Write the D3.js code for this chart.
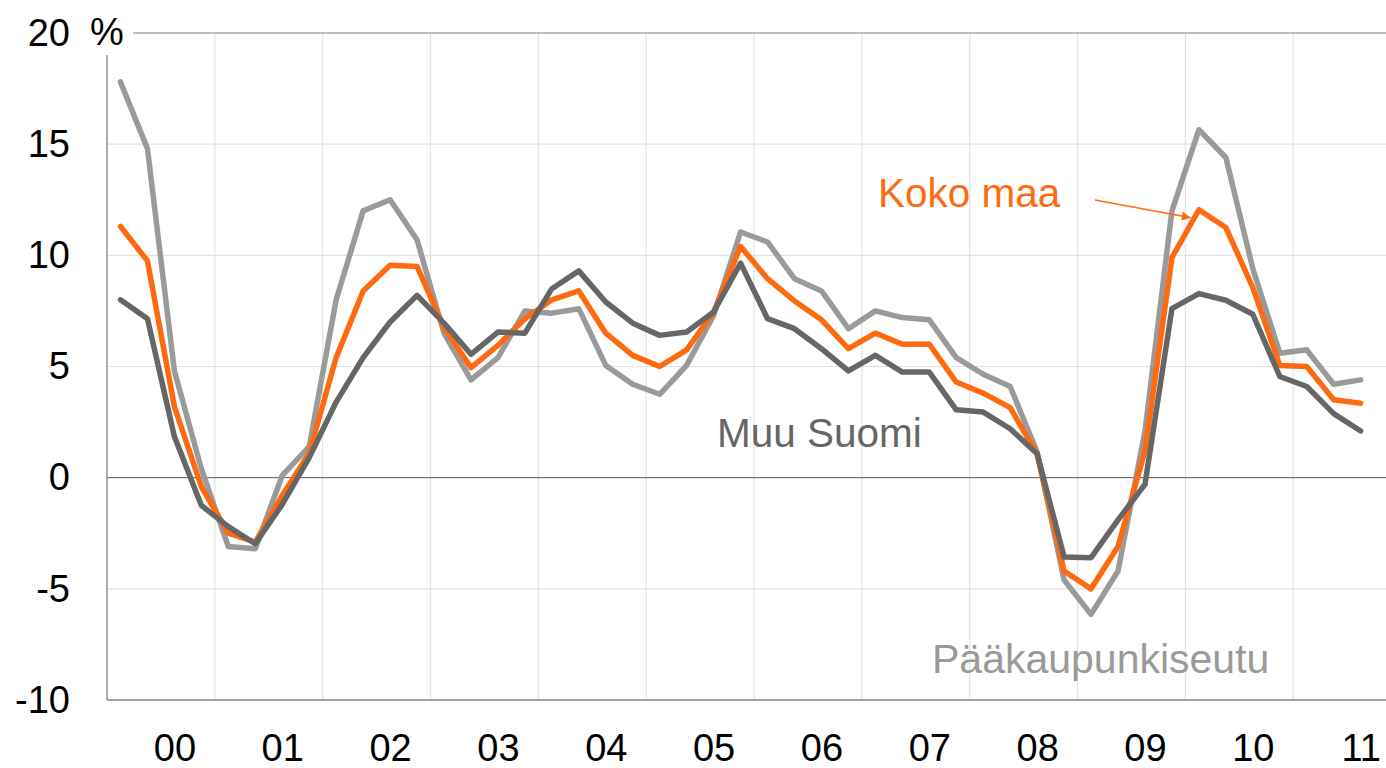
<!DOCTYPE html>
<html>
<head>
<meta charset="utf-8">
<script src="https://cdn.jsdelivr.net/npm/d3@7"></script>
<style>
  html, body { margin: 0; padding: 0; background: #fff; }
  svg { display: block; font-family: "Liberation Sans", Arial, sans-serif; }
</style>
</head>
<body>
<svg id="chart" width="1386" height="768"></svg>
<script>
// ---- data (quarterly, 2000Q1 .. 2011Q3) ----
const yearLabels = ["00","01","02","03","04","05","06","07","08","09","10","11"];
const yTicks = [-10, -5, 0, 5, 10, 15, 20];

const paakaupunkiseutu = [17.8, 14.8, 4.8, 0.4, -3.1, -3.2, 0.1, 1.4, 8.0, 12.0, 12.5, 10.7,
  6.5, 4.4, 5.4, 7.5, 7.4, 7.6, 5.05, 4.2, 3.75, 5.05, 7.3, 11.05,
  10.6, 8.95, 8.4, 6.7, 7.5, 7.2, 7.1, 5.4, 4.65, 4.1, 1.15, -4.6,
  -6.15, -4.2, 2.1, 12.0, 15.65, 14.4, 9.4, 5.6, 5.75, 4.2, 4.4];

const kokoMaa = [11.3, 9.75, 3.2, -0.4, -2.5, -2.9, -0.8, 1.1, 5.4, 8.4, 9.55, 9.5,
  6.75, 4.95, 5.95, 7.15, 8.0, 8.4, 6.5, 5.5, 5.0, 5.75, 7.45, 10.4,
  8.95, 7.95, 7.1, 5.8, 6.5, 6.0, 6.0, 4.3, 3.8, 3.15, 1.05, -4.2,
  -5.0, -3.1, 1.2, 9.9, 12.05, 11.25, 8.55, 5.05, 5.0, 3.5, 3.35];

const muuSuomi = [8.0, 7.15, 1.85, -1.25, -2.2, -2.97, -1.2, 0.9, 3.4, 5.4, 7.0, 8.2,
  6.95, 5.55, 6.55, 6.5, 8.5, 9.3, 7.9, 6.95, 6.4, 6.55, 7.45, 9.65,
  7.15, 6.7, 5.8, 4.8, 5.5, 4.75, 4.75, 3.05, 2.95, 2.2, 1.08, -3.57,
  -3.6, -1.9, -0.3, 7.6, 8.28, 7.98, 7.35, 4.55, 4.1, 2.88, 2.1];

const seriesNames = ["Pääkaupunkiseutu", "Koko maa", "Muu Suomi"];

// ---- layout ----
const ORANGE = "#ff6a10", LIGHT = "#9a9a9a", DARK = "#666666";
const plotLeft = 107, plotRight = 1386, plotTop = 33, plotBottom = 700;

const svg = d3.select("#chart");
const x = d3.scaleLinear().domain([-0.5, 46.94]).range([plotLeft, plotRight]);
const y = d3.scaleLinear().domain([-10, 20]).range([plotBottom, plotTop]);

// vertical gridlines (year boundaries)
const yearBounds = d3.range(yearLabels.length).map(k => 3.5 + 4 * k);
svg.append("g").selectAll("line").data(yearBounds).join("line")
  .attr("x1", d => x(d)).attr("x2", d => x(d))
  .attr("y1", plotTop).attr("y2", plotBottom)
  .attr("stroke", "#e4e4e4").attr("stroke-width", 1.2);

// horizontal gridlines
svg.append("g").selectAll("line").data(yTicks.filter(v => v !== 0 && v !== 20 && v !== -10)).join("line")
  .attr("x1", plotLeft).attr("x2", plotRight)
  .attr("y1", d => y(d)).attr("y2", d => y(d))
  .attr("stroke", "#e2e2e2").attr("stroke-width", 1.2);

// top line
svg.append("line").attr("x1", 133).attr("x2", plotRight)
  .attr("y1", y(20)).attr("y2", y(20))
  .attr("stroke", "#aaaaaa").attr("stroke-width", 1.5);

// zero line
svg.append("line").attr("x1", plotLeft).attr("x2", plotRight)
  .attr("y1", y(0)).attr("y2", y(0))
  .attr("stroke", "#555").attr("stroke-width", 1);

// bottom axis line
svg.append("line").attr("x1", plotLeft).attr("x2", plotRight)
  .attr("y1", plotBottom).attr("y2", plotBottom)
  .attr("stroke", "#888").attr("stroke-width", 1.5);

// left axis line
svg.append("line").attr("x1", plotLeft).attr("x2", plotLeft)
  .attr("y1", 55).attr("y2", plotBottom)
  .attr("stroke", "#777").attr("stroke-width", 1.2);

// y axis labels (plain hyphen minus, as in the original)
const yAxis = d3.axisLeft(y).tickValues(yTicks).tickSize(0).tickPadding(37)
  .tickFormat(d => String(d));
const gy = svg.append("g").attr("transform", `translate(${plotLeft},0)`).call(yAxis);
gy.select(".domain").remove();
gy.selectAll("text").attr("font-size", 38).attr("fill", "#000")
  .attr("font-family", "'Liberation Sans', Arial, sans-serif");

// % unit
svg.append("text").attr("x", 90).attr("y", y(20)).attr("dy", "0.32em")
  .attr("font-size", 38).attr("fill", "#000").text("%");

// x axis labels
const xAxis = d3.axisBottom(x).tickValues(yearLabels.map((d, k) => 4 * k + 2))
  .tickSize(0).tickPadding(34)
  .tickFormat((d) => yearLabels[(d - 2) / 4]);
const gx = svg.append("g").attr("transform", `translate(0,${plotBottom})`).call(xAxis);
gx.select(".domain").remove();
gx.selectAll("text").attr("font-size", 38).attr("fill", "#000")
  .attr("font-family", "'Liberation Sans', Arial, sans-serif");

// lines
const line = d3.line().x((d, i) => x(i)).y(d => y(d));
const series = [
  { values: paakaupunkiseutu, color: LIGHT },
  { values: kokoMaa, color: ORANGE },
  { values: muuSuomi, color: DARK }
];
svg.append("g").selectAll("path").data(series).join("path")
  .attr("d", d => line(d.values))
  .attr("fill", "none")
  .attr("stroke", d => d.color)
  .attr("stroke-width", 5.5)
  .attr("stroke-linejoin", "round")
  .attr("stroke-linecap", "round");

// labels
svg.append("text").attr("x", 878).attr("y", 207).attr("font-size", 40.5)
  .attr("fill", ORANGE).text(seriesNames[1]);
svg.append("text").attr("x", 717).attr("y", 447).attr("font-size", 40.5)
  .attr("fill", DARK).text(seriesNames[2]);
svg.append("text").attr("x", 932).attr("y", 673).attr("font-size", 41)
  .attr("fill", LIGHT).text(seriesNames[0]);

// arrow from "Koko maa" to the 2009Q4 peak
const defs = svg.append("defs");
defs.append("marker").attr("id", "arrow")
  .attr("viewBox", "0 0 10 10").attr("refX", 10).attr("refY", 5)
  .attr("markerWidth", 14).attr("markerHeight", 9)
  .attr("markerUnits", "userSpaceOnUse")
  .attr("orient", "auto")
  .append("path").attr("d", "M0,0 L10,5 L0,10 Z").attr("fill", ORANGE);
const peakIdx = 40;
svg.append("line")
  .attr("x1", 1095).attr("y1", 200)
  .attr("x2", x(peakIdx) - 8).attr("y2", y(kokoMaa[peakIdx]) + 8)
  .attr("stroke", ORANGE).attr("stroke-width", 1.6)
  .attr("marker-end", "url(#arrow)");
</script>
</body>
</html>
